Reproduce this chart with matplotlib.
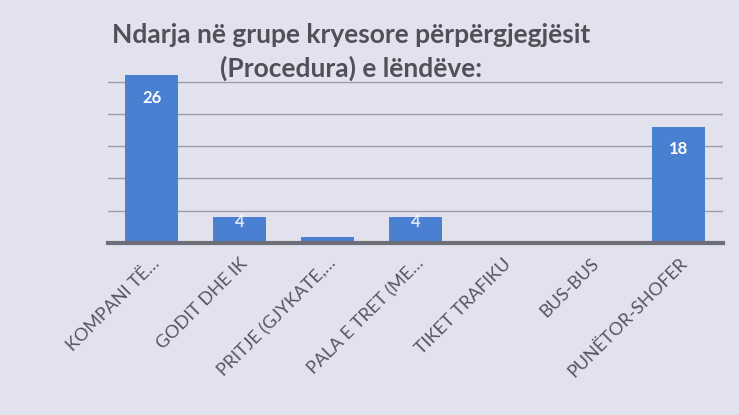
import matplotlib.pyplot as plt
import matplotlib.transforms as mtransforms

categories = ["KOMPANI TË…", "GODIT DHE IK", "PRITJE (GJYKATE,…", "PALA E TRET (ME…",
              "TIKET TRAFIKU", "BUS-BUS", "PUNËTOR-SHOFER"]
values = [26, 4, 1, 4, 0, 0, 18]
title = "Ndarja në grupe kryesore përpërgjegjësit\n(Procedura) e lëndëve:"

fonts = ["Lato", "DejaVu Sans"]
bg = "#e2e2ef"
bar_color = "#4a80d2"

fig = plt.figure(figsize=(7.39, 4.15), dpi=100, facecolor=bg)
ax = fig.add_axes([0.146, 0.4145, 0.832, 0.42])
ax.set_facecolor("none")

x = range(len(categories))
ax.bar(x, values, width=0.6, color=bar_color, zorder=3)

for i, v in zip(x, values):
    if v <= 1:
        continue
    off = 3.5 if v > 10 else 0.8
    ax.text(i, v - off, str(v), ha="center", va="center", color="white",
            fontsize=12, fontweight="bold", family=fonts, zorder=4,
            alpha=1.0 if v > 10 else 0.8)

ax.set_xlim(-0.5, len(categories) - 0.5)
ax.set_ylim(0, 27)
ax.set_yticks([5, 10, 15, 20, 25])
ax.yaxis.grid(True, color="#9c9ca6", linewidth=1, zorder=0)
ax.tick_params(axis="y", left=False, labelleft=False)
ax.tick_params(axis="x", bottom=False, pad=4)
for s in ["top", "right", "left"]:
    ax.spines[s].set_visible(False)
ax.spines["bottom"].set_color("#6e6e78")
ax.spines["bottom"].set_linewidth(3)
ax.spines["bottom"].set_zorder(5)

ax.set_xticks(list(x))
ax.set_xticklabels(categories, rotation=45, ha="right", rotation_mode="anchor",
                   fontsize=13, color="#555560", family=fonts)
shift = mtransforms.ScaledTranslation(0, -2 / 100, fig.dpi_scale_trans)
for lab in ax.get_xticklabels():
    lab.set_transform(lab.get_transform() + shift)

fig.text(0.475, 0.945, title, ha="center", va="top", multialignment="center",
         fontsize=19, fontweight="bold", color="#50505a", family=fonts, linespacing=1.42)

fig.savefig("out.png", dpi=100, facecolor=bg)
